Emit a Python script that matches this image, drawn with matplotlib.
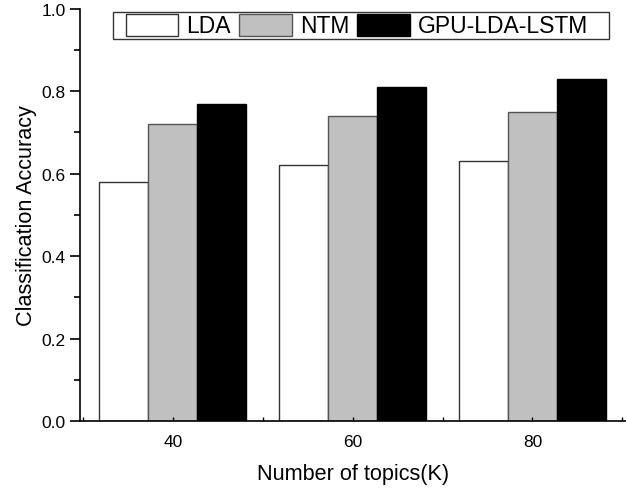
import numpy as np
import matplotlib.pyplot as plt
from matplotlib.patches import Rectangle
from matplotlib.ticker import MultipleLocator

plt.rcParams['font.family'] = ['Liberation Sans', 'DejaVu Sans']

# datos
topics = [40, 60, 80]
lda = [0.58, 0.62, 0.63]
ntm = [0.72, 0.74, 0.75]
gpu = [0.77, 0.81, 0.83]

x = np.array(topics)
w = 5.45

fig = plt.figure(figsize=(6.26, 4.89), dpi=100)
ax = fig.add_axes([0.128, 0.137, 0.872, 0.843])

ax.bar(x - w, lda, w, color='white', edgecolor='#333333', linewidth=1, label='LDA')
ax.bar(x, ntm, w, color='#c0c0c0', edgecolor='#555555', linewidth=1, label='NTM')
ax.bar(x + w, gpu, w, color='black', edgecolor='black', linewidth=1, label='GPU-LDA-LSTM')

ax.set_xlim(29.7, 90.4)
ax.set_ylim(0, 1.0)
ax.set_xticks(topics)
ax.xaxis.set_minor_locator(MultipleLocator(10))
ax.yaxis.set_major_locator(MultipleLocator(0.2))
ax.yaxis.set_minor_locator(MultipleLocator(0.1))
ax.yaxis.set_major_formatter(plt.FormatStrFormatter('%.1f'))

ax.spines['top'].set_visible(False)
ax.spines['right'].set_visible(False)
ax.spines['left'].set_linewidth(1.2)
ax.spines['bottom'].set_linewidth(1.2)

ax.tick_params(axis='y', which='major', direction='out', length=7, width=1.2, labelsize=12.5)
ax.tick_params(axis='y', which='minor', direction='out', length=4, width=1.2)
ax.tick_params(axis='x', which='both', direction='in', length=3, width=1, labelsize=12.5, pad=9)

ax.set_xlabel('Number of topics(K)', fontsize=15.6, labelpad=10.5)
ax.set_ylabel('Classification Accuracy', fontsize=15.6, labelpad=3)

# leyenda sin marco + marco manual
leg = ax.legend(ncol=3, loc='center left', bbox_to_anchor=(126 / 626, 1 - 26.5 / 489),
                bbox_transform=fig.transFigure, fontsize=16.5, frameon=False,
                handlelength=2.28, handleheight=1.12, handletextpad=0.36,
                columnspacing=0.36, borderpad=0.0, borderaxespad=0.0)
leg.set_zorder(6)
marco = Rectangle((113 / 626, 1 - 40 / 489), 496 / 626, 27 / 489,
                  transform=fig.transFigure, facecolor='white',
                  edgecolor='#333333', linewidth=1, zorder=5, clip_on=False)
ax.add_patch(marco)

fig.savefig('out.png', dpi=100)
